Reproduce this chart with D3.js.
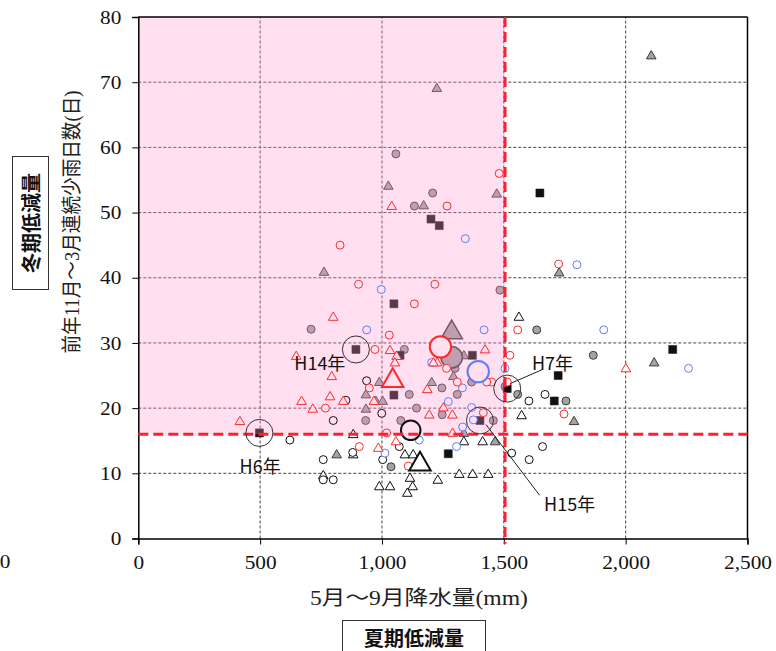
<!DOCTYPE html>
<html><head><meta charset="utf-8">
<script src="https://cdn.jsdelivr.net/npm/d3@7"></script>
<style>body{margin:0;background:#fff}svg{display:block}</style>
</head><body><svg id="c" width="776" height="651"></svg>
<script>
// ---------- data ----------
const xTicks = [0, 500, 1000, 1500, 2000, 2500];
const yTicks = [0, 10, 20, 30, 40, 50, 60, 70, 80];
const xTitle = "5月～9月降水量(mm)";
const yTitle = "前年11月～3月連続少雨日数(日)";
const thresholdX = 1505;   // summer rainfall threshold (mm)
const thresholdY = 16;     // winter consecutive dry days threshold

const redCircles = [[1481,56],[1267,51],[828,45],[904,39],[1217,39],[1133,36],[1030,31.2],[971,29],[1525,28.1],
  [1725,42.1],[1557,32],[1514,24],[1747,19.1],[1265,26.1],[1450,24],[1430,24],[948,23.1],[1309,24],[768,20],
  [1416,19.3],[1019,16.2],[907,14.1],[1108,11.1]];
const redTriangles = [[1040,50.9],[800,33.9],[1033,28.8],[1423,28.9],[1060,27.9],[1053,26.9],[1227,26.9],[1211,26.9],
  [794,24.8],[1186,22.8],[787,21.7],[841,21],[967,21],[1194,18.9],[1252,20],[1289,18.9],[1290,16.1],[1057,14.8],
  [985,13.8],[648,27.9],[670,21],[716,19.8],[417,17.9],[2001,26]];
const blueCircles = [[1342,46],[997,38.2],[937,32],[1419,32],[1800,42],[1910,32],[1505,26.1],[2258,26.1],[1204,27],
  [1330,23.1],[1272,21],[1331,17.1],[1368,20.1],[1375,18.2],[1153,15.1],[1306,14.1],[1012,13.1]];
const blackCircles = [[937,24.2],[852,21.2],[999,19.2],[800,18.1],[1071,14.1],[1532,13.1],[759,12.1],[880,13.2],
  [1003,12.1],[759,9.0],[800,9.0],[622,15.1],[1603,21.1],[1669,22.1],[1604,12.1],[1659,14.1]];
const blackTriangles = [[1562,33.9],[1573,18.8],[882,15.9],[1336,14.8],[1413,14.8],[882,12.8],[1094,12.8],[1128,12.8],
  [1317,9.8],[1372,9.8],[1436,9.8],[1229,8.9],[989,7.9],[1033,7.9],[1115,9.2],[1126,7.9],[1104,6.9],[759,9.6]];
const grayCircles = [[1057,59],[1208,53],[1133,51],[1484,38.1],[709,32.1],[1092,29],[1300,26.1],[1246,23.1],[1112,22.1],
  [1309,22.1],[1368,24],[933,18.1],[1077,18.1],[1142,20],[1247,19],[1457,18.1],[1037,11],[1635,32],[1867,28.1],
  [1557,22.1],[1755,21.1],[1505,23.3]];
const grayTriangles = [[1225,69],[2105,74],[1026,54],[1171,51],[1471,52.8],[762,40.8],[1727,40.7],[2117,26.9],[1336,28],
  [1293,24.8],[989,23.9],[1204,23.9],[934,22],[934,19.8],[975,21],[1003,21],[1336,16.1],[1464,14.8],[814,12.8],[1788,17.9]];
const darkSquares = [[1201,49],[1235,48],[1049,36],[893,29],[1648,53],[2193,29],[1723,25],[1514,23],[1707,21.1],
  [1074,28.1],[1371,28.1],[1049,22],[1402,18.1],[1272,13],[497,16.2]];

const bigGrayCircle = [[1286,27.8]];
const bigGrayTriangle = [[1286,31.6]];
const bigRedCircle = [[1240,29.4]];
const bigRedTriangle = [[1044,24.2]];
const bigBlueCircle = [[1395,25.6]];
const bigBlackCircle = [[1118,16.6]];
const bigBlackTriangle = [[1156,11.4]];

// annotated years
const noteYears = ["H6年", "H14年", "H7年", "H15年"];
const notePoints = [[497,16.2],[893,29],[1514,23],[1402,18.1]];
const noteLabelPos = [[500,11.2],[745,27.0],[1700,27.0],[1770,5.4]];

// ---------- drawing ----------
const svg = d3.select("#c");
const x = d3.scaleLinear().domain([0, 2500]).range([138.3, 747.5]);
const y = d3.scaleLinear().domain([0, 80]).range([538.5, 17]);

const RED = "#ff2a2a", BLUE = "#5d7dff", GRAYF = "#a3a3a3", GRAYS = "#3c3c3c";
const PINK = "#ffdff0";
const serif = "'Liberation Serif','Noto Sans CJK JP',serif";
const sans = "'Noto Sans CJK JP','Noto Sans',sans-serif";
const inPink = d => d[0] <= 1500 && d[1] >= thresholdY;

// gridlines
const grid = svg.append("g").attr("stroke", "#444").attr("stroke-width", 1).attr("stroke-dasharray", "3,2");
grid.selectAll(".gx").data(xTicks.filter(v => v > 0 && v < 2500)).join("line")
  .attr("x1", d => x(d)).attr("x2", d => x(d)).attr("y1", y(0)).attr("y2", y(80));
grid.selectAll(".gy").data(yTicks.filter(v => v > 0 && v < 80)).join("line")
  .attr("x1", x(0)).attr("x2", x(2500)).attr("y1", d => y(d)).attr("y2", d => y(d));

const sym = (type, size) => d3.symbol().type(type).size(size)();
function drawSeries(data, type, size, fill, stroke, sw) {
  svg.append("g").selectAll("path").data(data).join("path")
    .attr("d", sym(type, size))
    .attr("transform", d => `translate(${x(d[0])},${y(d[1])})`)
    .attr("fill", fill).attr("stroke", stroke).attr("stroke-width", sw);
}
const openFill = d => inPink(d) ? PINK : "#fff";

// filled markers (tinted by the pink zone overlay)
drawSeries(grayTriangles, d3.symbolTriangle, 40, GRAYF, GRAYS, 1);
drawSeries(grayCircles, d3.symbolCircle, 50, GRAYF, GRAYS, 1);
drawSeries(darkSquares, d3.symbolSquare, 64, "#111", "#111", 0.5);
drawSeries(bigGrayCircle, d3.symbolCircle, 360, GRAYF, GRAYS, 1.5);
drawSeries(bigGrayTriangle, d3.symbolTriangle, 200, GRAYF, GRAYS, 1.5);

// pink highlighted zone (translucent overlay)
svg.append("rect")
  .attr("x", x(0) + 0.5).attr("y", y(80))
  .attr("width", x(1500) - x(0)).attr("height", y(thresholdY) - y(80))
  .attr("fill", "rgb(255,150,205)").attr("fill-opacity", 0.3);

// open markers
drawSeries(blackTriangles, d3.symbolTriangle, 40, openFill, "#111", 1);
drawSeries(blackCircles, d3.symbolCircle, 50, openFill, "#111", 1);
drawSeries(blueCircles, d3.symbolCircle, 50, openFill, BLUE, 1);
drawSeries(redTriangles, d3.symbolTriangle, 40, openFill, RED, 1);
drawSeries(redCircles, d3.symbolCircle, 50, openFill, RED, 1);
drawSeries(bigRedCircle, d3.symbolCircle, 360, openFill, RED, 2);
drawSeries(bigRedTriangle, d3.symbolTriangle, 200, openFill, RED, 2);
drawSeries(bigBlueCircle, d3.symbolCircle, 360, openFill, BLUE, 2);
drawSeries(bigBlackCircle, d3.symbolCircle, 300, openFill, "#111", 2);
drawSeries(bigBlackTriangle, d3.symbolTriangle, 200, openFill, "#111", 2);

// frame
svg.append("line").attr("x1", x(0)).attr("x2", x(2500)).attr("y1", y(80)).attr("y2", y(80)).attr("stroke", "#000").attr("stroke-width", 1.5);
svg.append("line").attr("x1", x(2500)).attr("x2", x(2500)).attr("y1", y(80)).attr("y2", y(0)).attr("stroke", "#000").attr("stroke-width", 1.5);

// axes
const fitText = (sel, k) => sel.each(function () {
  const w = this.getComputedTextLength();
  d3.select(this).attr("textLength", w * k).attr("lengthAdjust", "spacingAndGlyphs");
});
const xAxis = svg.append("g").attr("transform", `translate(0,${y(0)})`)
  .call(d3.axisBottom(x).tickValues(xTicks).tickFormat(d3.format(",")).tickSize(6).tickPadding(11));
const yAxis = svg.append("g").attr("transform", `translate(${x(0)},0)`)
  .call(d3.axisLeft(y).tickValues(yTicks).tickSize(6).tickPadding(11));
[xAxis, yAxis].forEach(a => {
  a.select(".domain").attr("stroke", "#000").attr("stroke-width", 1.5);
  a.selectAll(".tick line").attr("stroke", "#000");
  a.selectAll("text").attr("font-family", serif).attr("font-size", 19).attr("fill", "#111").call(fitText, 1.12);
});
// stray secondary "0" label at far left
svg.append("text").attr("x", 5).attr("y", 568).attr("text-anchor", "middle")
  .attr("font-family", serif).attr("font-size", 19).attr("fill", "#111").text("0").call(fitText, 1.12);

// red threshold lines
svg.append("line").attr("x1", x(0)).attr("x2", x(2500)).attr("y1", y(thresholdY)).attr("y2", y(thresholdY))
  .attr("stroke", "#ff1e32").attr("stroke-width", 3).attr("stroke-dasharray", "10,5");
svg.append("line").attr("x1", x(thresholdX)).attr("x2", x(thresholdX)).attr("y1", y(80)).attr("y2", y(-0.8))
  .attr("stroke", "#ff1e32").attr("stroke-width", 3).attr("stroke-dasharray", "10,5");

// annotation circles
svg.append("g").selectAll("circle").data(notePoints).join("circle")
  .attr("cx", d => x(d[0])).attr("cy", d => y(d[1])).attr("r", 13.5)
  .attr("fill", "none").attr("stroke", "#333").attr("stroke-width", 1);
// leader lines (H7, H15)
svg.append("line").attr("x1", x(1514) + 3).attr("y1", y(23) - 5).attr("x2", x(1700) - 10).attr("y2", y(27.0) + 7)
  .attr("stroke", "#222").attr("stroke-width", 1);
svg.append("line").attr("x1", x(1402) + 6).attr("y1", y(18.1) + 4).attr("x2", x(1770) - 30).attr("y2", y(5.4) - 8)
  .attr("stroke", "#222").attr("stroke-width", 1);
svg.append("g").selectAll("text").data(noteYears).join("text")
  .attr("x", (d, i) => x(noteLabelPos[i][0])).attr("y", (d, i) => y(noteLabelPos[i][1]))
  .attr("text-anchor", "middle").attr("dominant-baseline", "central")
  .attr("font-family", sans).attr("font-size", 18).attr("fill", "#111").text(d => d);

// axis titles
svg.append("text").attr("x", 419).attr("y", 598).attr("text-anchor", "middle").attr("dominant-baseline", "central")
  .attr("font-family", serif).attr("font-size", 20).attr("fill", "#222").text(xTitle)
  .attr("textLength", 218).attr("lengthAdjust", "spacingAndGlyphs");
svg.append("text").attr("transform", "translate(72,222) rotate(-90)").attr("text-anchor", "middle").attr("dominant-baseline", "central")
  .attr("font-family", serif).attr("font-size", 20).attr("fill", "#222").text(yTitle)
  .attr("textLength", 263).attr("lengthAdjust", "spacingAndGlyphs");

// boxed labels
svg.append("rect").attr("x", 12.5).attr("y", 156.5).attr("width", 36).attr("height", 133)
  .attr("fill", "#fff").attr("stroke", "#333").attr("stroke-width", 1);
svg.append("text").attr("transform", "translate(30,223) rotate(-90)").attr("text-anchor", "middle").attr("dominant-baseline", "central")
  .attr("font-family", sans).attr("font-weight", "bold").attr("font-size", 20).attr("fill", "#111").text("冬期低減量");
svg.append("rect").attr("x", 342.5).attr("y", 620.5).attr("width", 143).attr("height", 40)
  .attr("fill", "#fff").attr("stroke", "#333").attr("stroke-width", 1);
svg.append("text").attr("x", 414).attr("y", 637).attr("text-anchor", "middle").attr("dominant-baseline", "central")
  .attr("font-family", sans).attr("font-weight", "bold").attr("font-size", 20).attr("fill", "#111").text("夏期低減量");
</script></body></html>
